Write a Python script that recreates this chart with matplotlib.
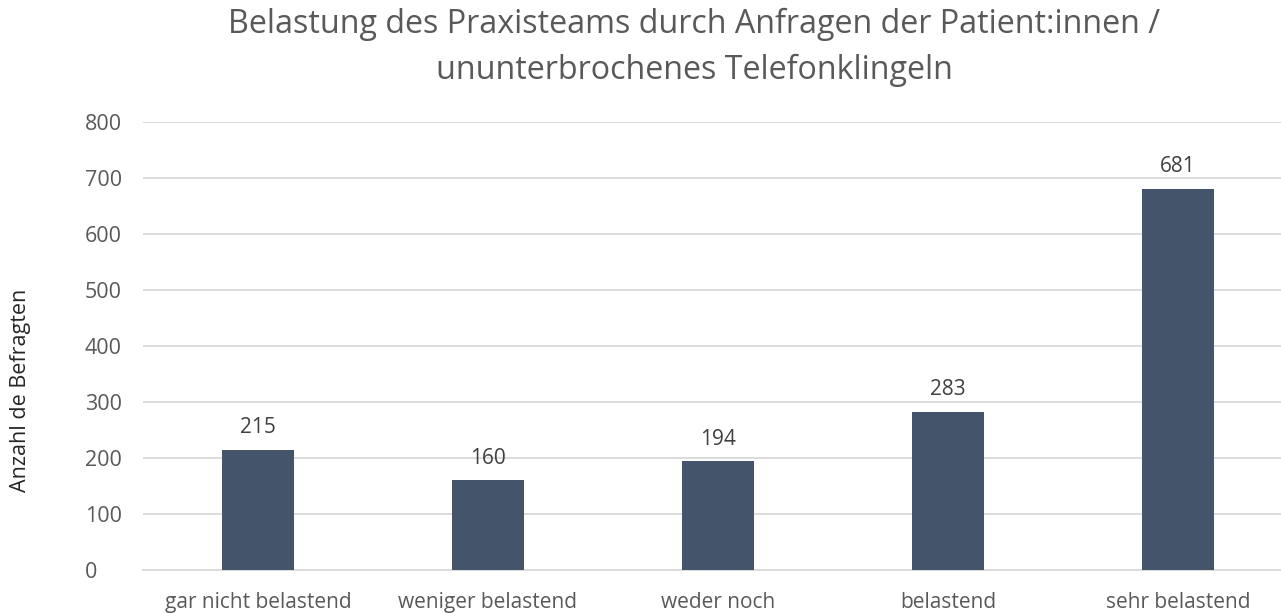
import matplotlib
matplotlib.use("Agg")
import matplotlib.pyplot as plt

categories = ["gar nicht belastend", "weniger belastend", "weder noch", "belastend", "sehr belastend"]
values = [215, 160, 194, 283, 681]
yticks = [0, 100, 200, 300, 400, 500, 600, 700, 800]
title_lines = ["Belastung des Praxisteams durch Anfragen der Patient:innen /",
               "ununterbrochenes Telefonklingeln"]
ylabel = "Anzahl de Befragten"

plt.rcParams['font.family'] = ['Open Sans', 'DejaVu Sans']
txt = "#595959"
W, H = 1281, 613

fig = plt.figure(figsize=(12.81, 6.13), dpi=100)
ax = fig.add_axes([143/W, 43/H, (1293-143)/W, (570-122)/H])
x = range(len(categories))
ax.bar(x, values, width=0.313, color="#44546A", zorder=3)
for xi, v in zip(x, values):
    ax.text(xi, v + 30, str(v), ha="center", va="baseline", fontsize=15, color="#404040")
ax.set_xlim(-0.5, len(categories) - 0.5)
ax.set_ylim(0, 800)
ax.set_yticks(yticks)
ax.set_xticks(list(x))
ax.set_xticklabels(categories, fontsize=15, color=txt)
ax.tick_params(axis="y", labelsize=15.5, labelcolor=txt, length=0, pad=42)
ax.tick_params(axis="x", length=0, pad=16)
for lab in ax.get_yticklabels():
    lab.set_horizontalalignment("left")
ax.grid(axis="y", color="#D9D9D9", linewidth=1.3, zorder=0)
for s in ["top", "right", "left"]:
    ax.spines[s].set_visible(False)
ax.spines["bottom"].set_color("#D9D9D9")
ax.spines["bottom"].set_linewidth(1.3)
fig.text(21/W, 1 - 390/H, ylabel, rotation=90, ha="center", va="center", fontsize=15.5, color="#262626")
fig.text(694/W, 1 - 33/H, title_lines[0], ha="center", va="baseline", fontsize=23.2, color=txt)
fig.text(694/W, 1 - 79/H, title_lines[1], ha="center", va="baseline", fontsize=23.2, color=txt)
fig.savefig("out.png", dpi=100)
